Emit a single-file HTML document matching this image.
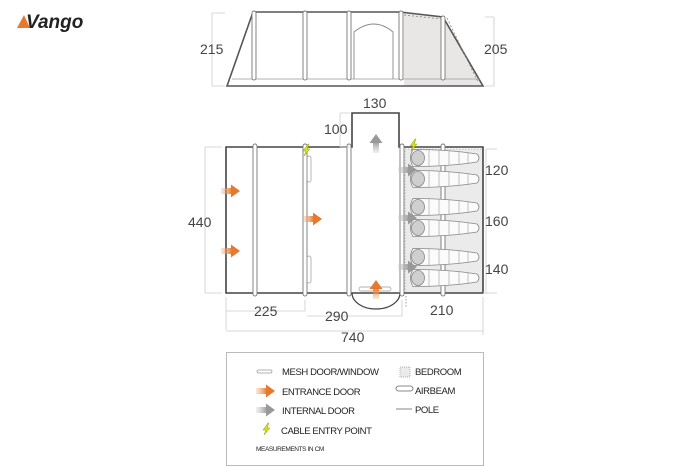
<!DOCTYPE html>
<html><head><style>
html,body{margin:0;padding:0;background:#fff;}
svg{display:block;font-family:"Liberation Sans",sans-serif;}
</style></head><body>
<svg width="700" height="467" viewBox="0 0 700 467" xmlns="http://www.w3.org/2000/svg">
<defs>
<linearGradient id="og" x1="0" x2="1"><stop offset="0" stop-color="#f3b27a" stop-opacity="0.3"/><stop offset="1" stop-color="#e8782e"/></linearGradient>
<linearGradient id="gg" x1="0" x2="1"><stop offset="0" stop-color="#ccc" stop-opacity="0.3"/><stop offset="1" stop-color="#999"/></linearGradient>
<g id="bag">
<path d="M0,-8.5 C20,-8.5 45,-7 64,-4 Q68,0 64,4 C45,7 20,8.5 0,8.5 Q-5,0 0,-8.5Z" fill="#fbfbfb" stroke="#888" stroke-width="0.8"/>
<ellipse cx="5" cy="0" rx="6.5" ry="7.5" fill="#cfcfcf" stroke="#888" stroke-width="0.8"/>
<path d="M16,-8 V8 M26,-7.6 V7.6 M36,-7V7 M46,-6V6 M55,-5V5" stroke="#aaa" stroke-width="0.7" fill="none"/>
</g>
<g id="oarr"><rect x="-13" y="-3" width="11" height="6" fill="url(#og)"/><path d="M-3,-6.5 L6,0 L-3,6.5Z" fill="#e8782e"/></g>
<g id="garr"><rect x="-13" y="-3" width="11" height="6" fill="url(#gg)"/><path d="M-3,-6.5 L6,0 L-3,6.5Z" fill="#999"/></g>
<g id="bolt"><path d="M2,-6 L-3,1 L0,1 L-2,6 L4,-1 L1,-1 L3,-6Z" fill="#d9e021" stroke="#8a9a10" stroke-width="0.5"/></g>
</defs>

<path d="M17,28 L24,15 L30,28Z" fill="#e8782e"/>
<text x="26" y="28" font-size="19" font-style="italic" font-weight="bold" fill="#222">Vango</text>

<g stroke="#555" fill="none">
<path d="M404,13 L443,17 L483,86 L404,86Z" fill="#e9e7e5" stroke="none"/>
<path d="M227,86 L253,12 L400,12 L443,17 L483,86 Z" stroke-width="1.6"/>
<line x1="232" y1="79" x2="480" y2="79" stroke="#999" stroke-width="0.8"/>
<path d="M447,18 L478,82" stroke="#888" stroke-dasharray="2,2" stroke-width="0.8"/>
<path d="M404,15 L442,19" stroke="#888" stroke-dasharray="2,2" stroke-width="0.8"/>
<g stroke="#777" stroke-width="0.9" fill="#fff">
<rect x="252" y="11" width="4" height="69" rx="2"/>
<rect x="303" y="11" width="4" height="69" rx="2"/>
<rect x="347" y="11" width="4" height="69" rx="2"/>
<rect x="399" y="11" width="4" height="69" rx="2"/>
<rect x="441" y="16" width="4" height="64" rx="2"/>
</g>
<path d="M354,79 V32 Q374,16 393,32 V79" stroke="#888" stroke-width="0.9"/>
<path d="M212,13 H225 M212,86 H225 M212,13 V86" stroke="#ccc" stroke-width="0.8"/>
<path d="M494,17 H485 M494,86 H485 M494,17 V86" stroke="#ccc" stroke-width="0.8"/>
</g>
<text x="200" y="54" font-size="14" fill="#444">215</text>
<text x="484" y="54" font-size="14" fill="#444">205</text>

<rect x="405" y="149" width="78" height="144" fill="#ebebeb"/>
<rect x="405" y="149" width="78" height="144" fill="none" stroke="#aaa" stroke-dasharray="1.5,1.5" stroke-width="0.7"/>
<path d="M226,147 H352 V113 H399 V147 H483 V293 H226 Z" fill="none" stroke="#444" stroke-width="1.6"/>
<path d="M352,293 A24,16 0 0 0 400,293" fill="none" stroke="#444" stroke-width="1.2"/>
<g stroke="#777" stroke-width="0.9" fill="#fff">
<rect x="253" y="144" width="4" height="152" rx="2"/>
<rect x="303" y="144" width="4" height="152" rx="2"/>
<rect x="347" y="144" width="4" height="152" rx="2"/>
<rect x="400" y="144" width="4" height="152" rx="2"/>
<rect x="441" y="144" width="4" height="152" rx="2"/>
</g>
<g fill="none" stroke="#999" stroke-width="0.7">
<rect x="307" y="156" width="4" height="26" rx="2"/>
<rect x="307" y="256" width="4" height="27" rx="2"/>
<rect x="359" y="287" width="32" height="4" rx="2"/>
</g>
<use href="#bag" x="413" y="158"/><use href="#bag" x="413" y="179"/>
<use href="#bag" x="413" y="207"/><use href="#bag" x="413" y="228"/>
<use href="#bag" x="413" y="257"/><use href="#bag" x="413" y="278"/>
<use href="#oarr" x="234" y="191"/><use href="#oarr" x="234" y="251"/>
<use href="#oarr" x="316" y="219"/>
<g transform="translate(376,286) rotate(-90)"><use href="#oarr"/></g>
<g transform="translate(376,140) rotate(-90)"><use href="#garr"/></g>
<use href="#garr" x="411" y="170"/><use href="#garr" x="411" y="218"/><use href="#garr" x="411" y="267"/>
<use href="#bolt" x="306" y="150"/><use href="#bolt" x="413" y="145"/>
<g stroke="#ccc" stroke-width="0.8" fill="none">
<path d="M205,147 H222 M205,293 H222 M205,147 V293"/>
<path d="M340,113 H350 M340,147 H350 M340,113 V147"/>
<path d="M486,149 H497 M486,293 H497 M486,149 V293"/>
<path d="M226,297 V330 M483,297 V335 M226,331 H483"/>
<path d="M305,300 V311 M226,311 H305"/>
<path d="M402,300 V316 M307,316 H402"/>
<path d="M406,296 V307" stroke="#888" stroke-dasharray="1.5,1.5"/>
<path d="M483,293 H488"/>
</g>
<text x="188" y="227" font-size="14" fill="#444">440</text>
<text x="324" y="134" font-size="14" fill="#444">100</text>
<text x="363" y="108" font-size="14" fill="#444">130</text>
<text x="485" y="175" font-size="14" fill="#444">120</text>
<text x="485" y="226" font-size="14" fill="#444">160</text>
<text x="485" y="274" font-size="14" fill="#444">140</text>
<text x="254" y="316" font-size="14" fill="#444">225</text>
<text x="325" y="321" font-size="14" fill="#444">290</text>
<text x="430" y="315" font-size="14" fill="#444">210</text>
<text x="341" y="342" font-size="14" fill="#444">740</text>

<rect x="226.5" y="352.5" width="257" height="113" fill="#fff" stroke="#bbb"/>
<g font-size="9.5" fill="#222" letter-spacing="-0.4">
<text x="282" y="375">MESH DOOR/WINDOW</text>
<text x="282" y="395">ENTRANCE DOOR</text>
<text x="282" y="414">INTERNAL DOOR</text>
<text x="281" y="434">CABLE ENTRY POINT</text>
<text x="256" y="451" font-size="6.5">MEASUREMENTS IN CM</text>
<text x="415" y="375">BEDROOM</text>
<text x="415" y="394">AIRBEAM</text>
<text x="415" y="413">POLE</text>
</g>
<rect x="257" y="370" width="15" height="3" rx="1.5" fill="none" stroke="#999" stroke-width="0.7"/>
<use href="#oarr" x="269" y="391"/>
<use href="#garr" x="269" y="410"/>
<use href="#bolt" x="266" y="429"/>
<rect x="400" y="367" width="10" height="10" fill="#ebebeb" stroke="#999" stroke-dasharray="1,1" stroke-width="0.7"/>
<rect x="396" y="386" width="17" height="5" rx="2.5" fill="#fff" stroke="#666" stroke-width="0.8"/>
<line x1="396" y1="409" x2="412" y2="409" stroke="#666" stroke-width="0.8"/>
</svg>
</body></html>
